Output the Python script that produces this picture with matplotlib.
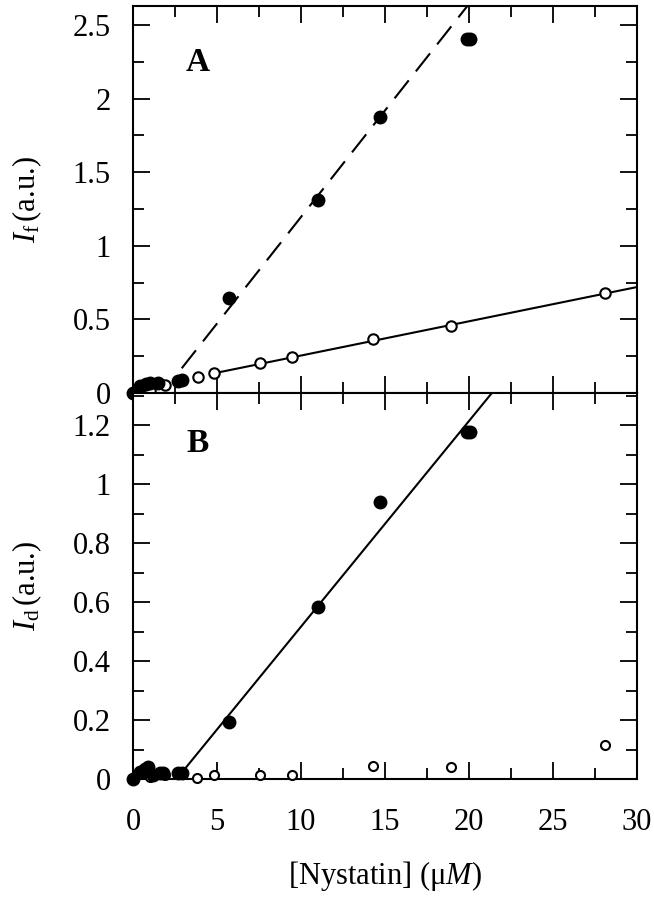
import matplotlib
matplotlib.use('Agg')
import matplotlib.pyplot as plt
import numpy as np
from matplotlib.ticker import MultipleLocator, FuncFormatter

plt.rcParams['font.family'] = ['Liberation Serif', 'DejaVu Serif']
plt.rcParams['mathtext.fontset'] = 'custom'
plt.rcParams['mathtext.rm'] = 'Liberation Serif'
plt.rcParams['mathtext.it'] = 'Liberation Serif:italic'
plt.rcParams['mathtext.bf'] = 'Liberation Serif:bold'

# panel A : fluorescence intensity
a_filled_x = [0, 0.4, 0.8, 1.0, 1.5, 2.7, 2.9, 5.7, 11.0, 14.7, 19.9, 20.05]
a_filled_y = [0, 0.05, 0.06, 0.07, 0.07, 0.08, 0.09, 0.645, 1.31, 1.875, 2.405, 2.405]
a_open_x = [1.0, 1.9, 3.85, 4.8, 7.55, 9.45, 14.3, 18.9, 28.1]
a_open_y = [0.014, 0.054, 0.11, 0.133, 0.204, 0.245, 0.367, 0.455, 0.68]

# panel B
b_filled_x = [0, 0.4, 0.7, 0.9, 1.2, 1.6, 1.8, 2.7, 2.9, 5.7, 11.0, 14.7, 19.9, 20.05]
b_filled_y = [0, 0.024, 0.035, 0.04, 0.012, 0.02, 0.022, 0.02, 0.022, 0.193, 0.583, 0.939, 1.176, 1.176]
b_open_x = [1.0, 1.9, 3.8, 4.8, 7.55, 9.45, 14.3, 18.9, 28.1]
b_open_y = [0.008, 0.014, 0.003, 0.014, 0.012, 0.012, 0.044, 0.04, 0.115]

# linear fits: (slope, intercept, x start, x end)
a_dash_fit = (0.1448, -0.252, 2.9, 22)
a_solid_fit = (0.02328, 0.0217, 4.8, 30)
b_solid_fit = (0.0698, -0.181, 3.0, 22)

xticks = [0, 5, 10, 15, 20, 25, 30]

fig = plt.figure(figsize=(6.54, 8.99), dpi=100)
ax1 = fig.add_axes([133/654, 1-393/899, 504/654, 387/899])
ax2 = fig.add_axes([133/654, 1-779/899, 504/654, 386/899])

def fitline(ax, fit, **kw):
    xx = np.array([fit[2], fit[3]])
    ax.plot(xx, fit[0]*xx + fit[1], color='black', lw=1.5, zorder=2, **kw)

fitline(ax1, a_dash_fit, linestyle=(0, (11, 5.5)))
fitline(ax1, a_solid_fit)
fitline(ax2, b_solid_fit)

for ax, fx, fy, ox, oy, ms in [(ax1, a_filled_x, a_filled_y, a_open_x, a_open_y, 7.5),
                               (ax2, b_filled_x, b_filled_y, b_open_x, b_open_y, 6.5)]:
    ax.plot(ox, oy, 'o', ms=ms, mfc='white', mec='black', mew=1.5, ls='none', zorder=3, clip_on=False)
    ax.plot(fx, fy, 'o', ms=9, mfc='black', mec='black', ls='none', zorder=4, clip_on=False)

fmt = FuncFormatter(lambda v, p: '%g' % round(v, 3))

ax1.set_ylim(0, 2.63)
ax1.yaxis.set_major_locator(MultipleLocator(0.5))
ax1.yaxis.set_minor_locator(MultipleLocator(0.25))
ax2.set_ylim(0, 1.31)
ax2.yaxis.set_major_locator(MultipleLocator(0.2))
ax2.yaxis.set_minor_locator(MultipleLocator(0.1))

for ax in (ax1, ax2):
    ax.set_xlim(0, 30)
    ax.set_xticks(xticks)
    ax.xaxis.set_minor_locator(MultipleLocator(2.5))
    ax.yaxis.set_major_formatter(fmt)
    ax.tick_params(which='both', direction='in', top=True, right=True, width=1.3)
    ax.tick_params(which='major', length=12)
    ax.tick_params(which='minor', length=8)
    ax.tick_params(axis='y', which='major', labelsize=22, pad=16)
    ax.tick_params(axis='x', which='major', labelsize=22, pad=21)
    for s in ax.spines.values():
        s.set_linewidth(1.5)

ax1.tick_params(axis='x', labelbottom=False)
ax2.set_xticklabels([str(t) for t in xticks])

ax1.text(0.129, 0.855, 'A', transform=ax1.transAxes, fontsize=24, fontweight='bold',
         ha='center', va='center')
ax2.text(0.129, 0.87, 'B', transform=ax2.transAxes, fontsize=24, fontweight='bold',
         ha='center', va='center')

ax1.text(-0.21, 0.5, r'$I_\mathrm{f}\,$(a.u.)', transform=ax1.transAxes, rotation=90,
         fontsize=22, ha='center', va='center')
ax2.text(-0.21, 0.5, r'$I_\mathrm{d}\,$(a.u.)', transform=ax2.transAxes, rotation=90,
         fontsize=22, ha='center', va='center')
fig.text(385/654, 1-884/899, r'[Nystatin] ($\mathrm{\mu}M$)', fontsize=22,
         ha='center', va='baseline')

fig.savefig('out.png', dpi=100)
